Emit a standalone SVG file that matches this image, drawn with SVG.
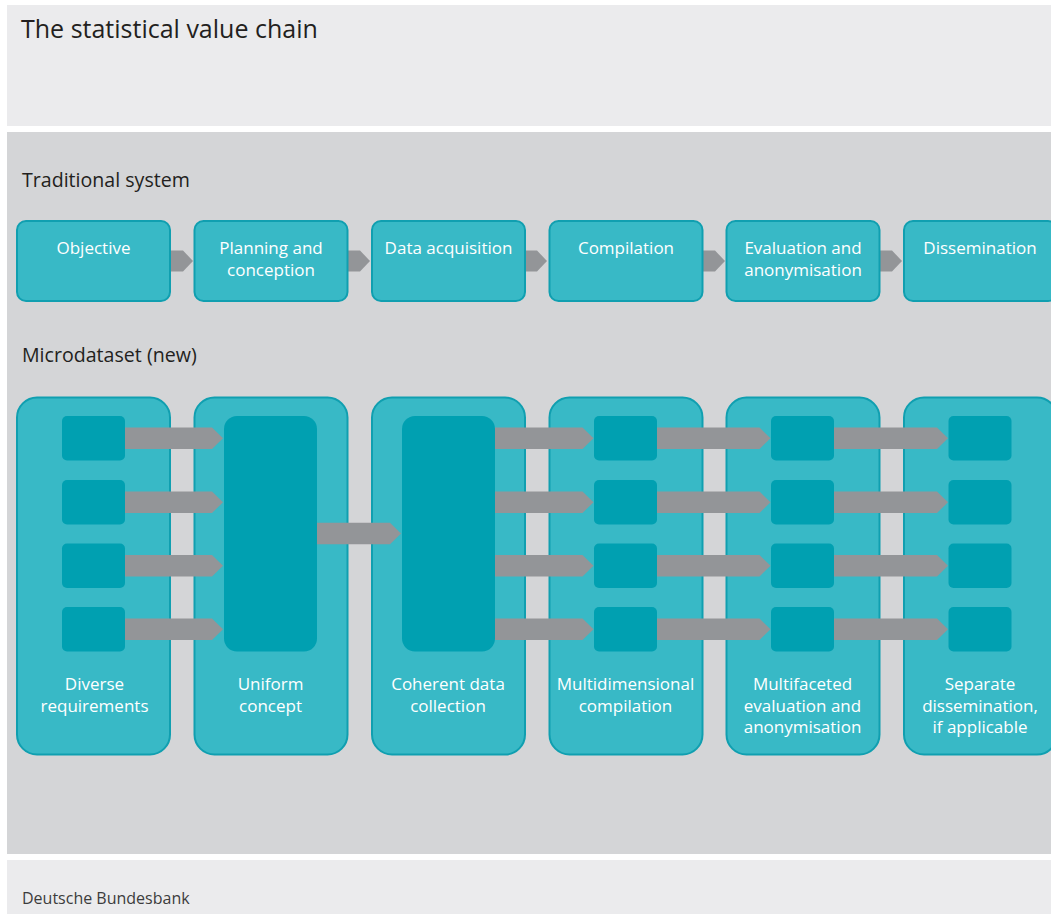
<svg xmlns="http://www.w3.org/2000/svg" width="1051" height="914" viewBox="0 0 1051 914">
  <defs>
    <style>
      .panel-light { fill: #ebebed; }
      .panel-grey { fill: #d4d5d7; }
      .title { font-family: "Open Sans", "Noto Sans", sans-serif; font-size: 25px; fill: #231f20; }
      .section { font-family: "Open Sans", "Noto Sans", sans-serif; font-size: 19.6px; fill: #231f20; }
      .source { font-family: "Open Sans", "Noto Sans", sans-serif; font-size: 16px; fill: #3c3c3c; }
      .box { fill: #38b9c6; stroke: #109fb0; stroke-width: 2; }
      .inner { fill: #00a0b1; }
      .arrow { fill: #939598; }
      .label { font-family: "Open Sans", "Noto Sans", sans-serif; font-size: 17px; fill: #ffffff; text-anchor: middle; }
    </style>
  </defs>

  <!-- background panels -->
  <rect width="1051" height="914" fill="#ffffff"/>
  <rect class="panel-light" x="7" y="5" width="1044" height="121"/>
  <rect class="panel-grey" x="7" y="132" width="1044" height="722"/>
  <rect class="panel-light" x="7" y="860" width="1044" height="54"/>

  <text class="title" x="21" y="38">The statistical value chain</text>
  <text class="section" x="22" y="187">Traditional system</text>
  <text class="section" x="22" y="362">Microdataset (new)</text>
  <text class="source" x="22" y="904">Deutsche Bundesbank</text>

  <!-- traditional system: connectors (behind the boxes) -->
  <g id="trad-connectors">
    <path class="arrow" d="M165 250.5 H183 L193 261 L183 271.5 H165 Z"/>
    <path class="arrow" d="M342 250.5 H360 L370 261 L360 271.5 H342 Z"/>
    <path class="arrow" d="M519 250.5 H537 L547 261 L537 271.5 H519 Z"/>
    <path class="arrow" d="M697 250.5 H715 L725 261 L715 271.5 H697 Z"/>
    <path class="arrow" d="M874 250.5 H892 L902 261 L892 271.5 H874 Z"/>
  </g>

  <!-- traditional system: steps -->
  <g id="trad-objective">
    <rect class="box" x="17" y="221" width="153" height="80" rx="9"/>
    <text class="label" x="93.5" y="254">Objective</text>
  </g>
  <g id="trad-planning">
    <rect class="box" x="194.5" y="221" width="153" height="80" rx="9"/>
    <text class="label" x="271" y="254">Planning and</text>
    <text class="label" x="271" y="276">conception</text>
  </g>
  <g id="trad-acquisition">
    <rect class="box" x="372" y="221" width="153" height="80" rx="9"/>
    <text class="label" x="448.5" y="254">Data acquisition</text>
  </g>
  <g id="trad-compilation">
    <rect class="box" x="549.5" y="221" width="153" height="80" rx="9"/>
    <text class="label" x="626" y="254">Compilation</text>
  </g>
  <g id="trad-evaluation">
    <rect class="box" x="726.5" y="221" width="153" height="80" rx="9"/>
    <text class="label" x="803" y="254">Evaluation and</text>
    <text class="label" x="803" y="276">anonymisation</text>
  </g>
  <g id="trad-dissemination">
    <rect class="box" x="904" y="221" width="153" height="80" rx="9"/>
    <text class="label" x="980" y="254">Dissemination</text>
  </g>

  <!-- microdataset: outer stages -->
  <g id="micro-diverse">
    <rect class="box" x="17" y="397.5" width="153" height="357" rx="20"/>
    <rect class="inner" x="62" y="416" width="63" height="44.5" rx="5"/>
    <rect class="inner" x="62" y="480" width="63" height="44.5" rx="5"/>
    <rect class="inner" x="62" y="543.5" width="63" height="44.5" rx="5"/>
    <rect class="inner" x="62" y="607" width="63" height="44.5" rx="5"/>
    <text class="label" x="94.5" y="690">Diverse</text>
    <text class="label" x="94.5" y="712">requirements</text>
  </g>
  <g id="micro-uniform">
    <rect class="box" x="194.5" y="397.5" width="153" height="357" rx="20"/>
    <rect class="inner" x="224" y="416" width="93" height="235.5" rx="13"/>
    <text class="label" x="270.5" y="690">Uniform</text>
    <text class="label" x="270.5" y="712">concept</text>
  </g>
  <g id="micro-collection">
    <rect class="box" x="372" y="397.5" width="153" height="357" rx="20"/>
    <rect class="inner" x="402" y="416" width="93" height="235.5" rx="13"/>
    <text class="label" x="448" y="690">Coherent data</text>
    <text class="label" x="448" y="712">collection</text>
  </g>
  <g id="micro-compilation">
    <rect class="box" x="549.5" y="397.5" width="153" height="357" rx="20"/>
    <rect class="inner" x="594" y="416" width="63" height="44.5" rx="5"/>
    <rect class="inner" x="594" y="480" width="63" height="44.5" rx="5"/>
    <rect class="inner" x="594" y="543.5" width="63" height="44.5" rx="5"/>
    <rect class="inner" x="594" y="607" width="63" height="44.5" rx="5"/>
    <text class="label" x="625.5" y="690">Multidimensional</text>
    <text class="label" x="625.5" y="712">compilation</text>
  </g>
  <g id="micro-evaluation">
    <rect class="box" x="726.5" y="397.5" width="153" height="357" rx="20"/>
    <rect class="inner" x="771" y="416" width="63" height="44.5" rx="5"/>
    <rect class="inner" x="771" y="480" width="63" height="44.5" rx="5"/>
    <rect class="inner" x="771" y="543.5" width="63" height="44.5" rx="5"/>
    <rect class="inner" x="771" y="607" width="63" height="44.5" rx="5"/>
    <text class="label" x="802.5" y="690">Multifaceted</text>
    <text class="label" x="802.5" y="711.5">evaluation and</text>
    <text class="label" x="802.5" y="733">anonymisation</text>
  </g>
  <g id="micro-dissemination">
    <rect class="box" x="904" y="397.5" width="153" height="357" rx="20"/>
    <rect class="inner" x="948.5" y="416" width="63" height="44.5" rx="5"/>
    <rect class="inner" x="948.5" y="480" width="63" height="44.5" rx="5"/>
    <rect class="inner" x="948.5" y="543.5" width="63" height="44.5" rx="5"/>
    <rect class="inner" x="948.5" y="607" width="63" height="44.5" rx="5"/>
    <text class="label" x="980" y="690">Separate</text>
    <text class="label" x="980" y="711.5">dissemination,</text>
    <text class="label" x="980" y="733">if applicable</text>
  </g>

  <!-- microdataset: connectors -->
  <g id="micro-connectors">
    <!-- requirements into uniform concept -->
    <path class="arrow" d="M125 427.5 H212 L223 438.25 L212 449 H125 Z"/>
    <path class="arrow" d="M125 491.5 H212 L223 502.25 L212 513 H125 Z"/>
    <path class="arrow" d="M125 555 H212 L223 565.75 L212 576.5 H125 Z"/>
    <path class="arrow" d="M125 618.5 H212 L223 629.25 L212 640 H125 Z"/>
    <!-- concept into collection -->
    <path class="arrow" d="M317 522.75 H390 L401 533.5 L390 544.25 H317 Z"/>
    <!-- collection into compilation -->
    <path class="arrow" d="M495 427.5 H582.5 L593.5 438.25 L582.5 449 H495 Z"/>
    <path class="arrow" d="M495 491.5 H582.5 L593.5 502.25 L582.5 513 H495 Z"/>
    <path class="arrow" d="M495 555 H582.5 L593.5 565.75 L582.5 576.5 H495 Z"/>
    <path class="arrow" d="M495 618.5 H582.5 L593.5 629.25 L582.5 640 H495 Z"/>
    <!-- compilation into evaluation -->
    <path class="arrow" d="M657 427.5 H759.5 L770.5 438.25 L759.5 449 H657 Z"/>
    <path class="arrow" d="M657 491.5 H759.5 L770.5 502.25 L759.5 513 H657 Z"/>
    <path class="arrow" d="M657 555 H759.5 L770.5 565.75 L759.5 576.5 H657 Z"/>
    <path class="arrow" d="M657 618.5 H759.5 L770.5 629.25 L759.5 640 H657 Z"/>
    <!-- evaluation into dissemination -->
    <path class="arrow" d="M834 427.5 H937 L948 438.25 L937 449 H834 Z"/>
    <path class="arrow" d="M834 491.5 H937 L948 502.25 L937 513 H834 Z"/>
    <path class="arrow" d="M834 555 H937 L948 565.75 L937 576.5 H834 Z"/>
    <path class="arrow" d="M834 618.5 H937 L948 629.25 L937 640 H834 Z"/>
  </g>
</svg>
